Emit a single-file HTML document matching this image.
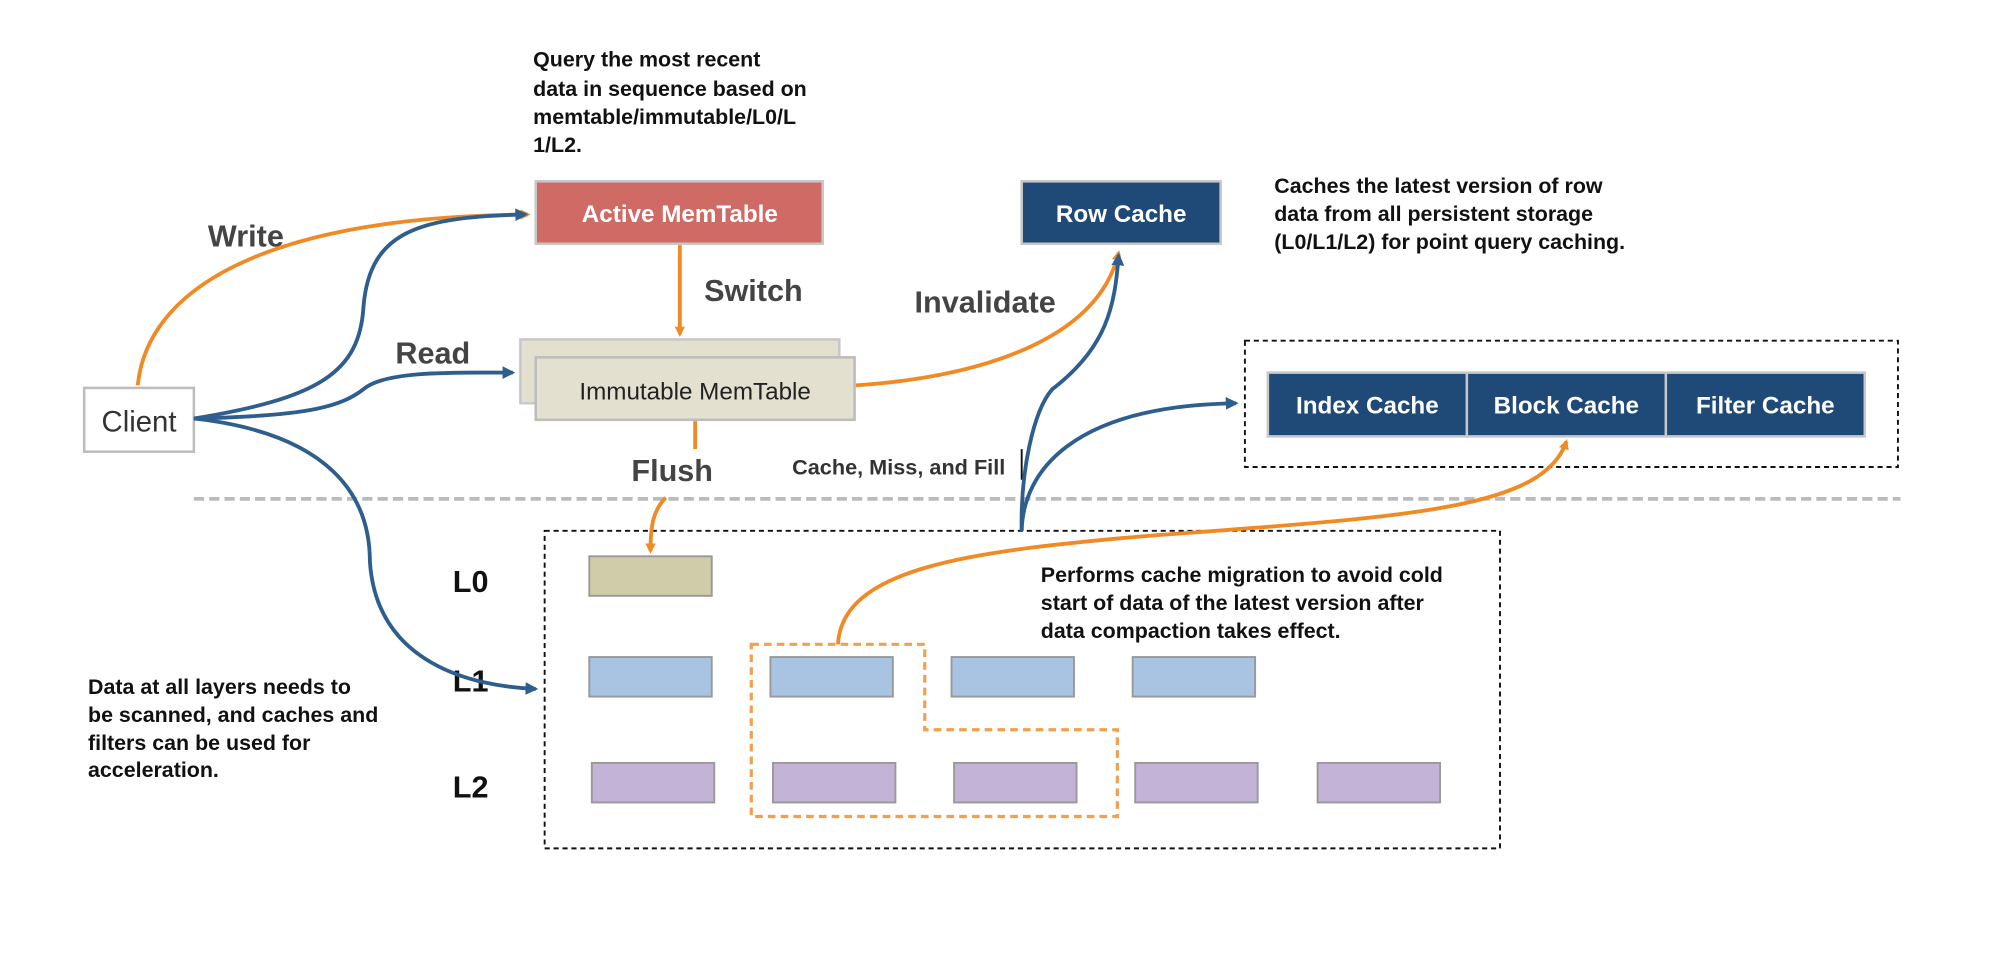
<!DOCTYPE html>
<html><head><meta charset="utf-8"><style>
html,body{margin:0;padding:0;background:#fff;}
svg{display:block;}
text{font-family:"Liberation Sans",sans-serif;}
</style></head><body>
<svg width="2000" height="971" viewBox="0 0 1568 761" xmlns="http://www.w3.org/2000/svg">
<defs>
<marker id="ao" markerWidth="8" markerHeight="8" refX="6" refY="4" orient="auto" markerUnits="userSpaceOnUse"><path d="M0,0 L8,4 L0,8 z" fill="#f08a24"/></marker>
<marker id="ab" markerWidth="10" markerHeight="10" refX="8" refY="5" orient="auto" markerUnits="userSpaceOnUse"><path d="M0,0 L10,5 L0,10 z" fill="#2e5e8e"/></marker>
</defs>
<rect width="1568" height="761" fill="#fff"/>
<g font-size="16.8" font-weight="bold" fill="#111">
<text x="418" y="52">Query the most recent</text>
<text x="418" y="75">data in sequence based on</text>
<text x="418" y="97">memtable/immutable/L0/L</text>
<text x="418" y="119">1/L2.</text>
<text x="999" y="151">Caches the latest version of row</text>
<text x="999" y="173">data from all persistent storage</text>
<text x="999" y="195">(L0/L1/L2) for point query caching.</text>
<text x="816" y="456">Performs cache migration to avoid cold</text>
<text x="816" y="478">start of data of the latest version after</text>
<text x="816" y="500">data compaction takes effect.</text>
<text x="69" y="544">Data at all layers needs to</text>
<text x="69" y="566">be scanned, and caches and</text>
<text x="69" y="588">filters can be used for</text>
<text x="69" y="609">acceleration.</text>
</g>
<rect x="420" y="142" width="225" height="49" fill="#d06a64" stroke="#c8c8c8" stroke-width="2"/>
<text x="533" y="174" font-size="19" fill="#fff" text-anchor="middle" font-weight="bold">Active MemTable</text>
<rect x="801" y="142" width="156" height="49" fill="#1f4a78" stroke="#c8c8c8" stroke-width="2"/>
<text x="879" y="174" font-size="19" fill="#fff" text-anchor="middle" font-weight="bold">Row Cache</text>
<rect x="408" y="266" width="250" height="50" fill="#e3e0d0" stroke="#c8c8c8" stroke-width="2"/>
<rect x="420" y="280" width="250" height="49" fill="#e3e0d0" stroke="#bdbdbd" stroke-width="2"/>
<text x="545" y="313" font-size="19" fill="#222" text-anchor="middle">Immutable MemTable</text>
<rect x="66" y="304" width="86" height="50" fill="#fff" stroke="#bdbdbd" stroke-width="2"/>
<text x="109" y="338" font-size="23" fill="#333" text-anchor="middle">Client</text>
<rect x="976" y="267" width="512" height="99" fill="none" stroke="#111" stroke-width="1.5" stroke-dasharray="4 3"/>
<rect x="994" y="292" width="468" height="50" fill="#1f4a78" stroke="#c8c8c8" stroke-width="2"/>
<line x1="1150" y1="292" x2="1150" y2="342" stroke="#c8c8c8" stroke-width="2"/>
<line x1="1306" y1="292" x2="1306" y2="342" stroke="#c8c8c8" stroke-width="2"/>
<g font-size="19" fill="#fff" text-anchor="middle" font-weight="bold">
<text x="1072" y="324">Index Cache</text><text x="1228" y="324">Block Cache</text><text x="1384" y="324">Filter Cache</text></g>
<line x1="152" y1="391" x2="1490" y2="391" stroke="#bbb" stroke-width="3" stroke-dasharray="8 4"/>
<rect x="427" y="416" width="749" height="249" fill="none" stroke="#111" stroke-width="1.5" stroke-dasharray="4 3"/>
<g font-size="24" font-weight="bold" fill="#111">
<text x="355" y="464">L0</text><text x="355" y="542">L1</text><text x="355" y="625">L2</text></g>
<rect x="462" y="436" width="96" height="31" fill="#d0ccaa" stroke="#999" stroke-width="1.5"/>
<g fill="#a9c4e2" stroke="#999" stroke-width="1.5">
<rect x="462" y="515" width="96" height="31"/><rect x="604" y="515" width="96" height="31"/><rect x="746" y="515" width="96" height="31"/><rect x="888" y="515" width="96" height="31"/></g>
<g fill="#c3b3d6" stroke="#999" stroke-width="1.5">
<rect x="464" y="598" width="96" height="31"/><rect x="606" y="598" width="96" height="31"/><rect x="748" y="598" width="96" height="31"/><rect x="890" y="598" width="96" height="31"/><rect x="1033" y="598" width="96" height="31"/></g>
<path d="M589,505 L725,505 L725,572 L876,572 L876,640 L589,640 Z" fill="none" stroke="#f0a050" stroke-width="2.5" stroke-dasharray="6 4"/>
<g font-size="24" font-weight="bold" fill="#444">
<text x="163" y="193">Write</text><text x="552" y="236">Switch</text><text x="717" y="245">Invalidate</text><text x="310" y="285">Read</text><text x="495" y="377">Flush</text></g>
<text x="621" y="372" font-size="17" font-weight="bold" fill="#333">Cache, Miss, and Fill</text>
<line x1="801" y1="352" x2="801" y2="376" stroke="#111" stroke-width="1.5"/>
<g fill="none" stroke="#f08a24" stroke-width="3">
<path d="M108,302 C115,230 200,170 414,168" marker-end="url(#ao)"/>
<path d="M533,192 L533,262" marker-end="url(#ao)"/>
<path d="M671,302 C760,296 860,270 877,198" marker-end="url(#ao)"/>
<path d="M545,330 L545,352 M522,390 C512,400 510,412 510,432" marker-end="url(#ao)"/>
<path d="M657,505 C660,445 760,432 900,420 C1100,405 1210,400 1228,346" marker-end="url(#ao)"/>
</g>
<g fill="none" stroke="#2e5e8e" stroke-width="3">
<path d="M152,328 C250,312 282,292 285,240 C290,180 330,170 412,168" marker-end="url(#ab)"/>
<path d="M152,328 C245,326 268,318 285,305 C302,290 360,292 402,292" marker-end="url(#ab)"/>
<path d="M152,328 C260,340 290,390 290,440 C295,520 370,538 420,540" marker-end="url(#ab)"/>
<path d="M801,416 C800,370 810,322 825,305 C868,272 874,240 877,200" marker-end="url(#ab)"/>
<path d="M801,416 C802,370 840,318 969,316" marker-end="url(#ab)"/>
</g>
</svg>
</body></html>
